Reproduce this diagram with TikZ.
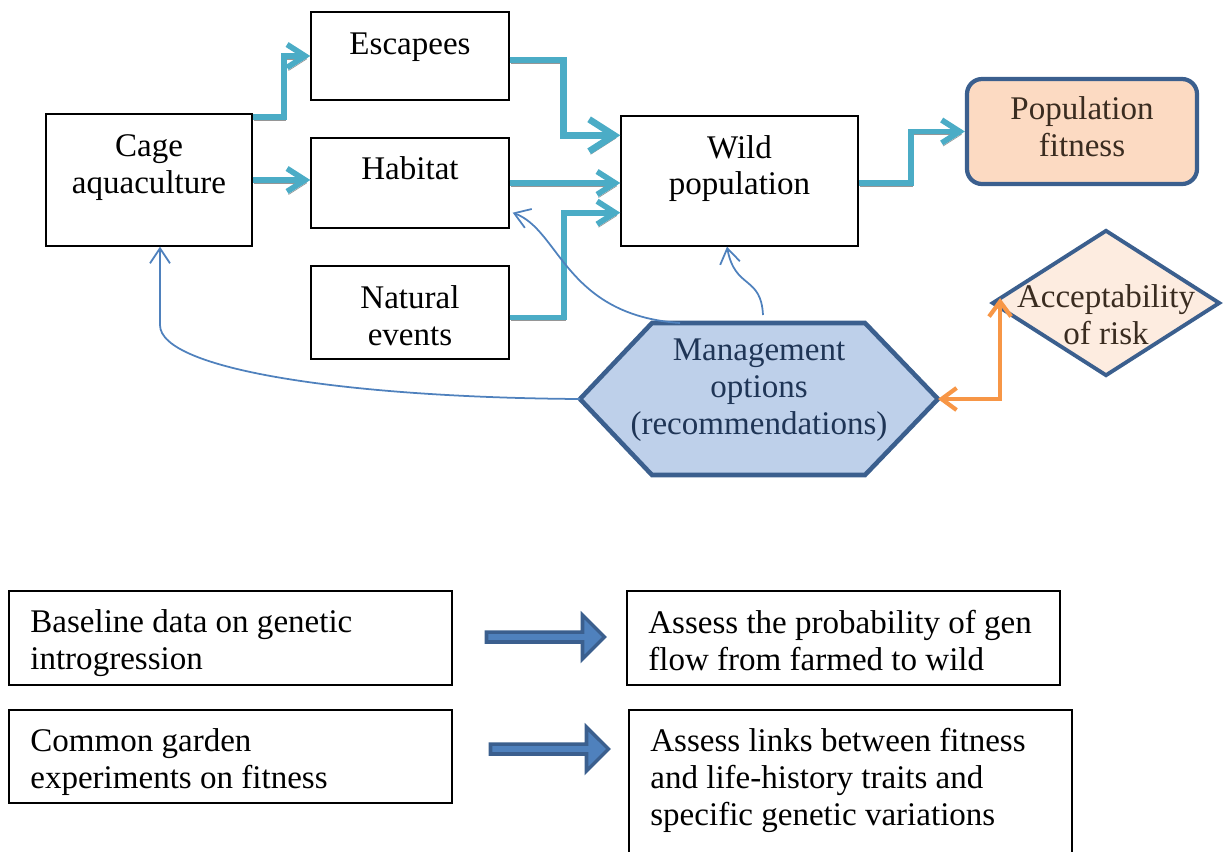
\documentclass[tikz,border=0pt]{standalone}
\usepackage{fontspec}
\setmainfont{Liberation Serif}
\usetikzlibrary{positioning, arrows.meta, shapes.geometric, shapes.arrows, calc}
\definecolor{flowcolor}{HTML}{4BACC6}
\definecolor{linkcolor}{HTML}{4F81BD}
\definecolor{bordercolor}{HTML}{3B5F8E}
\definecolor{riskcolor}{HTML}{F79646}
\definecolor{mgmtfill}{RGB}{190,208,234}
\definecolor{fitfill}{RGB}{252,218,194}
\definecolor{riskfill}{RGB}{253,236,224}
\definecolor{mgmttext}{HTML}{1F3556}
\definecolor{fittext}{HTML}{3A2C20}
\definecolor{shadowgray}{RGB}{150,150,150}

\begin{document}
\begin{tikzpicture}[
    font=\fontsize{18.8}{21}\selectfont,
    box/.style={draw, line width=0.8pt, inner sep=0pt},
    txt/.style={align=center, inner sep=0pt},
    flow/.style={draw=flowcolor, line width=3.2pt, line join=miter,
        -{Straight Barb[length=0.36cm, width=0.46cm]},
        preaction={draw=shadowgray, transform canvas={shift={(0.03,-0.06)}}}},
    bigflow/.style={flow, line width=3.8pt, -{Straight Barb[length=0.5cm, width=0.64cm]}},
    feedback/.style={draw=linkcolor, line width=1pt, -{Straight Barb[length=0.3cm, width=0.4cm]}},
    blockarrow/.style={single arrow, draw=bordercolor, fill=linkcolor, line width=2pt,
        minimum height=2.36cm, minimum width=0.88cm, single arrow head extend=0.12cm,
        single arrow tip angle=90, inner sep=0pt}
]
    \useasboundingbox (0,0) rectangle (24.56,-17.02);

    % --- upper diagram: boxes
    \node[box, minimum width=4.12cm, minimum height=2.64cm] (cage) at (2.98,-3.6) {};
    \node[txt] (cagetxt) at (2.98,-3.35) {Cage\\aquaculture};

    \node[box, minimum width=3.96cm, minimum height=1.76cm] (escapees) at (8.2,-1.12) {};
    \node[txt] (esctxt) at (8.2,-0.94) {Escapees};

    \node[box, minimum width=3.96cm, minimum height=1.8cm] (habitat) at (8.2,-3.66) {};
    \node[txt] (habtxt) at (8.2,-3.37) {Habitat};

    \node[box, minimum width=3.96cm, minimum height=1.86cm] (natural) at (8.2,-6.25) {};
    \node[txt] (nattxt) at (8.2,-6.32) {Natural\\events};

    \node[box, minimum width=4.74cm, minimum height=2.6cm] (wild) at (14.79,-3.62) {};
    \node[txt] (wildtxt) at (14.79,-3.37) {Wild\\population};

    \node[draw=bordercolor, fill=fitfill, line width=2.4pt, rounded corners=0.3cm,
        minimum width=4.6cm, minimum height=2.1cm] (fitness) at (21.64,-2.63) {};
    \node[txt, text=fittext] (fittxt) at (21.64,-2.54) {Population\\fitness};

    \node[diamond, draw=bordercolor, fill=riskfill, line width=2.2pt, inner sep=0pt,
        minimum width=4.56cm, minimum height=2.92cm] (risk) at (22.12,-6.06) {};
    \node[txt, text=fittext] (risktxt) at (22.12,-6.3) {Acceptability\\of risk};

    % hexagon
    \draw[draw=bordercolor, fill=mgmtfill, line width=2.6pt]
        (11.6,-7.98) coordinate (mgmtL) -- (13.04,-6.46) coordinate (mgmtNW)
        -- (17.3,-6.46) coordinate (mgmtNE) -- (18.76,-7.98) coordinate (mgmtR)
        -- (17.3,-9.5) -- (13.04,-9.5) -- cycle;
    \node[txt, text=mgmttext] (mgmttxt) at (15.18,-7.81) {Management\\options\\(recommendations)};

    % --- flows
    \draw[flow] ([yshift=-0.08cm]cage.north east) -- ++(0.62,0) |- (escapees.west);
    \draw[flow] (cage.east) -- (cage.east -| habitat.west);
    \draw[bigflow] ([yshift=-0.08cm]escapees.east) -- ++(1.08,0) |- ([yshift=-0.4cm]wild.north west);
    \draw[flow] (habitat.east) -- (habitat.east -| wild.west);
    \draw[flow] ([yshift=-0.1cm]natural.east) -- ++(1.08,0) |- ([yshift=0.68cm]wild.south west);
    \draw[flow] ([yshift=-0.04cm]wild.east) -- ++(1.04,0) |- (fitness.west);

    % --- management feedback
    \draw[feedback] (mgmtL) .. controls (7,-7.95) and (3.2,-7.4) .. (3.2,-6.5)
        -- ([xshift=0.22cm]cage.south);
    \draw[feedback] ([xshift=0.56cm]mgmtNW) .. controls (11.3,-6.3) and (11.2,-4.6)
        .. ([shift={(0.06,0.32)}]habitat.south east);
    \draw[feedback] (15.26,-6.3) .. controls (15.22,-5.5) and (14.7,-5.8)
        .. ([xshift=-0.25cm]wild.south);
    \draw[draw=riskcolor, line width=2.4pt,
        {Straight Barb[length=0.3cm, width=0.44cm]}-{Straight Barb[length=0.3cm, width=0.44cm]}]
        (mgmtR) -| ([shift={(0.2,0.1)}]risk.west);

    % --- lower part
    \node[box, minimum width=8.86cm, minimum height=1.88cm] (baseline) at (4.61,-12.76) {};
    \node[txt, align=left, anchor=west] (basetxt) at (0.6,-12.87) {Baseline data on genetic\\introgression};

    \node[box, minimum width=8.66cm, minimum height=1.88cm] (probflow) at (16.87,-12.76) {};
    \node[txt, align=left, anchor=west] (probtxt) at (12.96,-12.81) {Assess the probability of gen\\flow from farmed to wild};

    \node[box, minimum width=8.86cm, minimum height=1.86cm] (garden) at (4.61,-15.13) {};
    \node[txt, align=left, anchor=west] (gardentxt) at (0.6,-15.24) {Common garden\\experiments on fitness};

    \node[box, minimum width=8.86cm, minimum height=3.1cm] (links) at (17.01,-15.75) {};
    \node[txt, align=left, anchor=west] (linkstxt) at (13.0,-15.61) {Assess links between fitness\\and life-history traits and\\specific genetic variations};

    \node[blockarrow] (arrowA) at (10.86,-12.74) {};
    \node[blockarrow] (arrowB) at (10.94,-14.98) {};
\end{tikzpicture}
\end{document}
